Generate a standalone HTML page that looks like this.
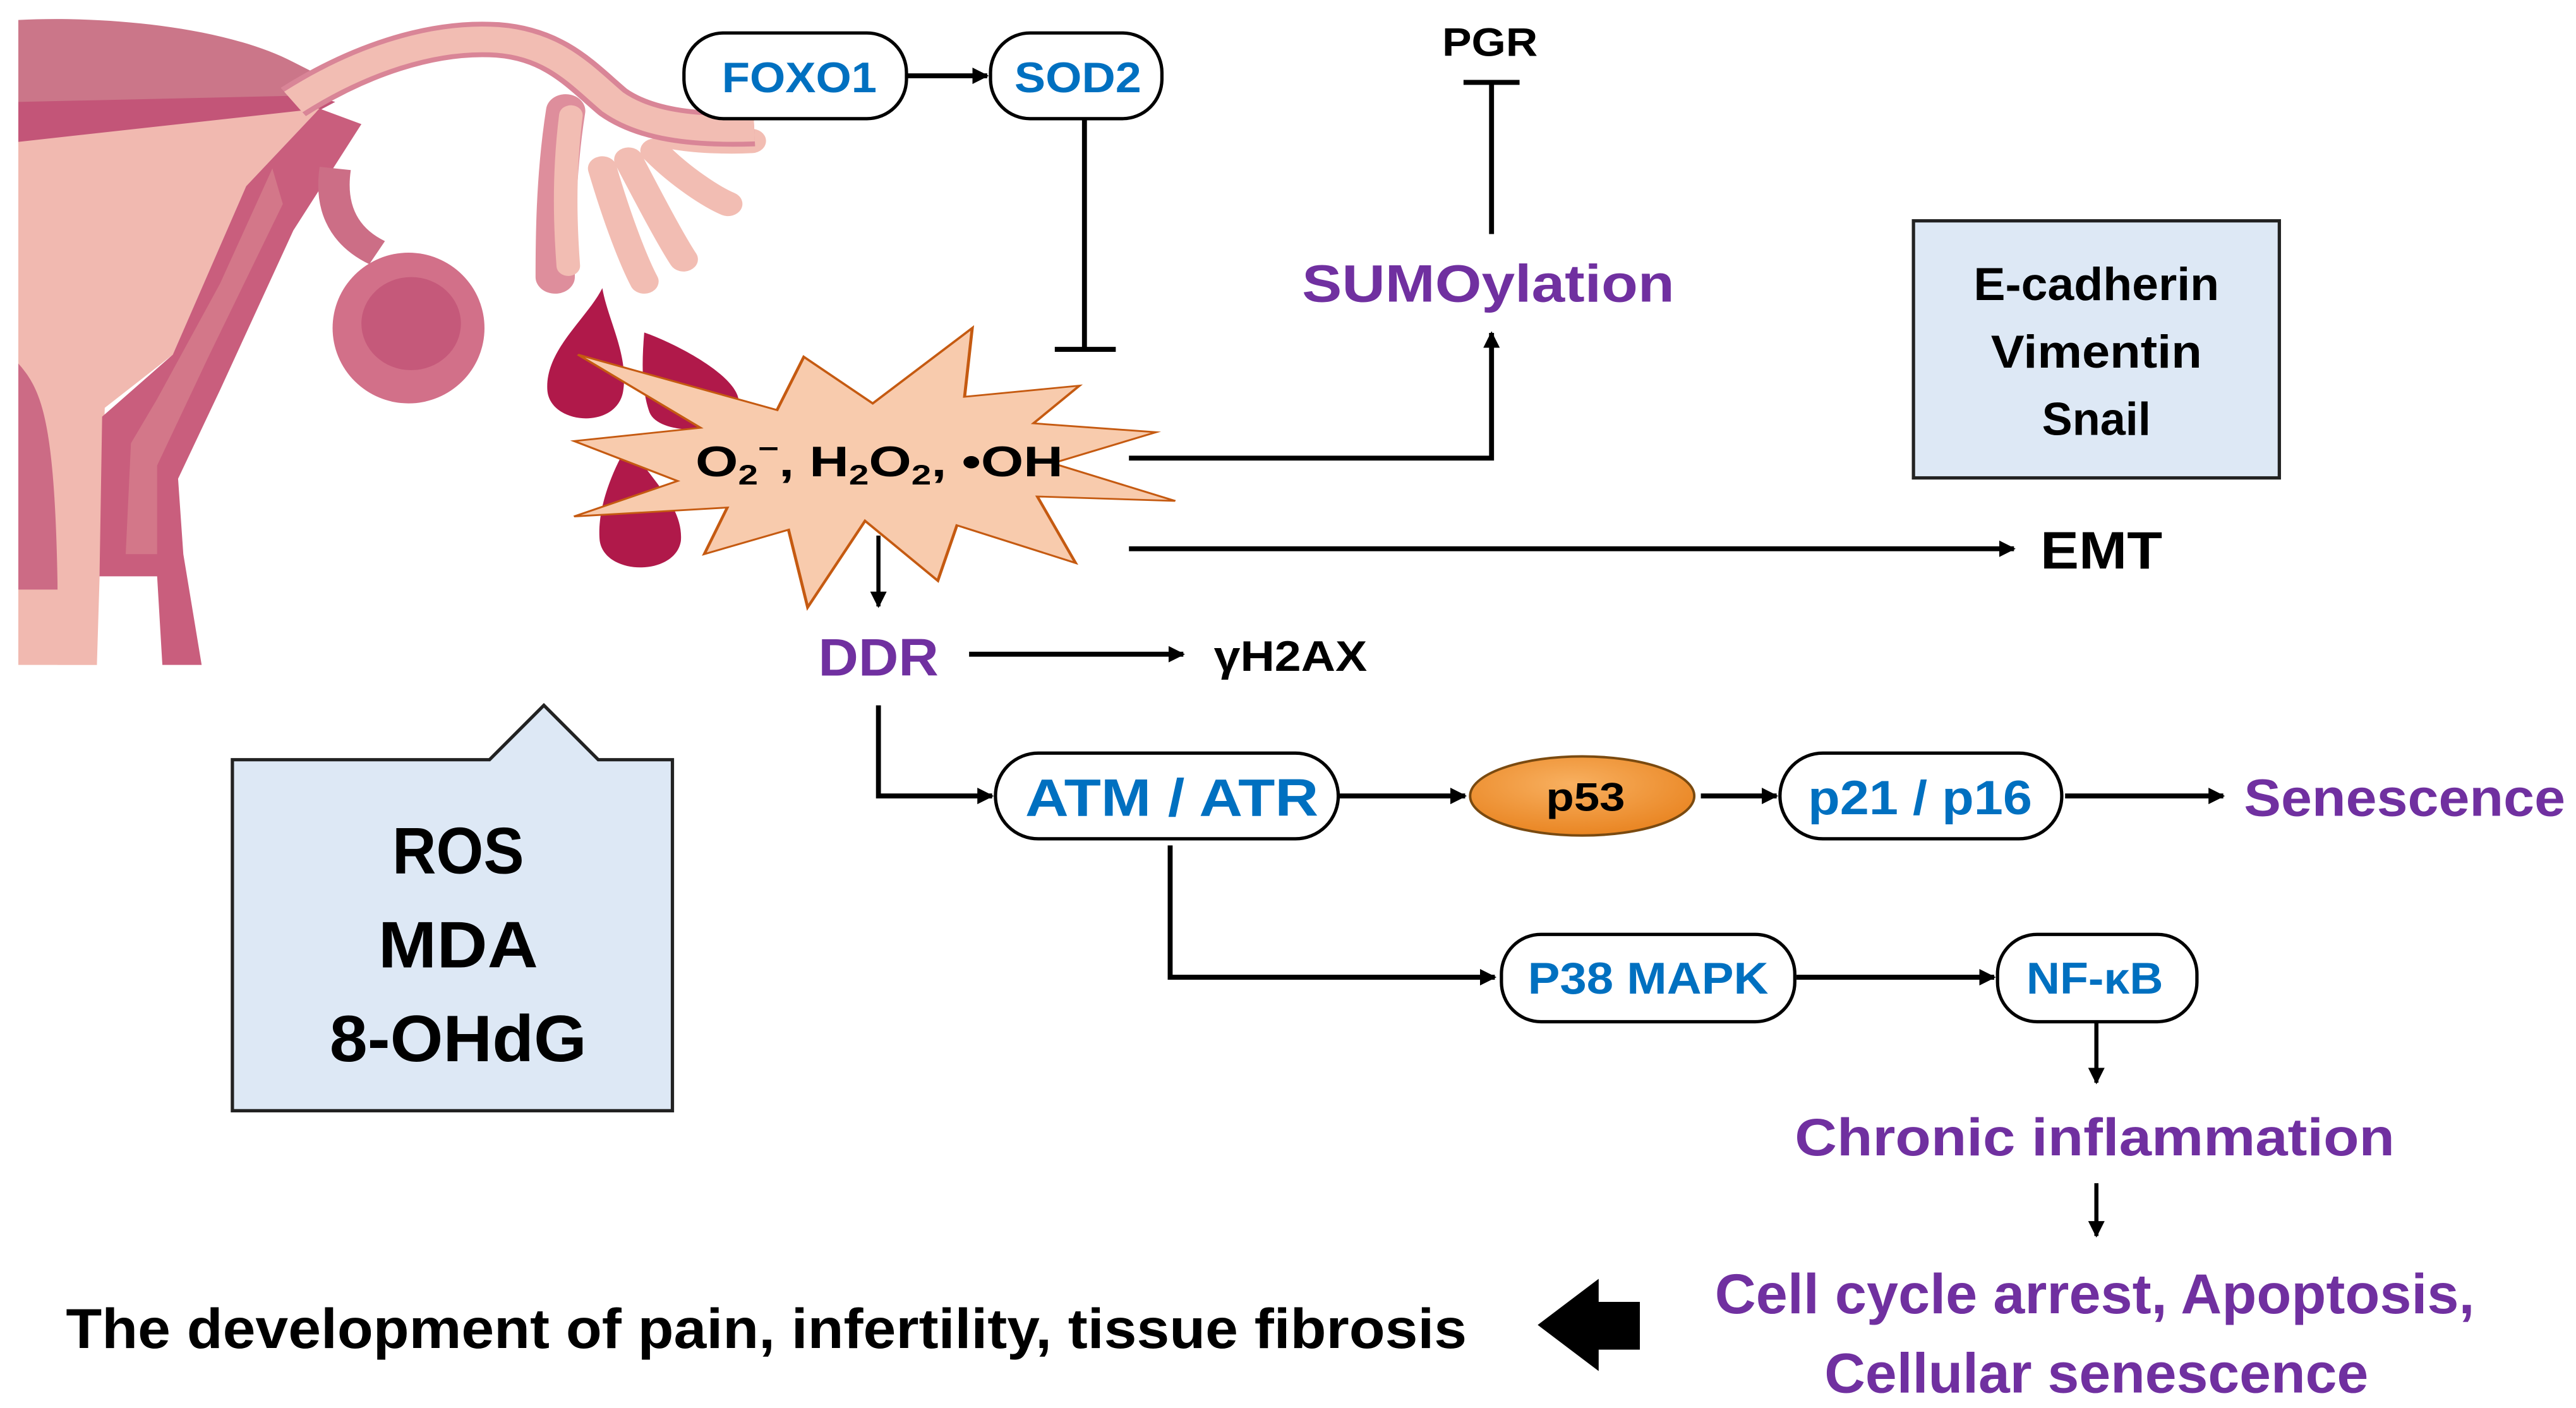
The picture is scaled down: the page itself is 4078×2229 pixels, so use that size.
<!DOCTYPE html>
<html><head><meta charset="utf-8"><style>
html,body{margin:0;padding:0;background:#fff;}
svg{display:block;}
text{font-family:"Liberation Sans",sans-serif;font-weight:bold;}
</style></head><body>
<svg width="4078" height="2229" viewBox="0 0 1563 854.4" preserveAspectRatio="none" xmlns="http://www.w3.org/2000/svg">
<defs>
<marker id="a" markerWidth="10" markerHeight="10" refX="9" refY="5" orient="auto" markerUnits="userSpaceOnUse"><path d="M0,0 L10,5 L0,10 z" fill="#000"/></marker>
<radialGradient id="og" cx="0.45" cy="0.35" r="0.7"><stop offset="0" stop-color="#F8B060"/><stop offset="1" stop-color="#E8821E"/></radialGradient>
</defs>

<!-- Uterus illustration -->
<g transform="scale(0.3178,0.269)">
  <path d="M35,45 C200,35 430,60 560,140 L660,200 L600,250 L35,320 Z" fill="#CB7689"/>
  <path d="M35,230 L600,215 L640,230 L560,280 L35,325 Z" fill="#C35578"/>
  <path d="M35,320 L610,245 L470,420 L330,800 L200,920 L185,1500 L35,1500 Z" fill="#F1B9B0"/>
  <path d="M35,820 C80,880 105,950 110,1330 L35,1330 Z" fill="#CC6B85"/>
  <path d="M610,245 L690,280 L560,520 L420,880 L340,1080 L350,1250 L385,1500 L310,1500 L300,1300 L190,1300 L195,940 L330,800 L470,420 Z" fill="#C95E7D"/>
  <path d="M520,380 L420,640 L300,900 L250,1000 L240,1250 L300,1250 L300,1050 L400,800 L540,460 Z" fill="#D7818F" opacity="0.7"/>
  <path d="M110,960 L185,960 L185,1500 L110,1500 Z" fill="#F1B9B0"/>
  <g fill="none" stroke-linecap="round">
    <path d="M1080,250 C1060,400 1060,550 1060,625" stroke="#DE8E9C" stroke-width="75"/>
    <path d="M1090,260 C1075,400 1080,520 1085,600" stroke="#F2BDB3" stroke-width="45"/>
    <g stroke="#F2BDB3" stroke-width="55">
      <path d="M1150,380 C1180,500 1210,590 1230,635"/>
      <path d="M1200,360 C1240,450 1280,540 1305,585"/>
      <path d="M1250,340 C1300,400 1360,445 1390,460"/>
      <path d="M1290,310 C1340,320 1400,320 1435,318"/>
    </g>
  </g>
  <path d="M560,230 C680,140 820,80 950,90 C1060,100 1110,170 1170,230 C1230,280 1320,295 1440,290" fill="none" stroke="#D98597" stroke-width="80"/>
  <path d="M560,230 C680,140 820,80 950,90 C1060,100 1110,170 1170,230 C1230,280 1320,295 1440,290" fill="none" stroke="#F2BDB3" stroke-width="58"/>
  <path d="M640,380 C630,460 650,530 720,570" fill="none" stroke="#CC6E86" stroke-width="60"/>
  <ellipse cx="780" cy="740" rx="145" ry="170" fill="#D27089"/>
  <ellipse cx="785" cy="730" rx="95" ry="105" fill="#C5597A"/>
  <g fill="#B0194A">
    <path d="M1150,650 C1120,720 1040,790 1045,880 C1050,960 1180,970 1190,880 C1200,800 1160,720 1150,650 Z"/>
    <path d="M1230,750 C1280,770 1400,840 1410,900 C1420,980 1260,990 1240,930 C1225,880 1225,820 1230,750 Z"/>
    <path d="M1200,1000 C1160,1080 1140,1160 1145,1220 C1155,1300 1290,1300 1300,1220 C1305,1140 1240,1080 1200,1000 Z"/>
  </g>
</g>
<g transform="scale(0.4645,0.269)">
  <path d="M755,800 L1015,925 L1050,805 L1140,910 L1270,740 L1260,895 L1410,870 L1350,955 L1510,975 L1375,1045 L1535,1130 L1355,1120 L1405,1270 L1250,1185 L1225,1310 L1130,1175 L1055,1370 L1030,1195 L920,1250 L950,1145 L750,1165 L885,1085 L750,995 L915,965 Z" fill="#F8CBAD" stroke="#C55A11" stroke-width="4" stroke-linejoin="miter"/>
</g>

<!-- star text -->
<text x="422" y="289" font-size="26" textLength="223" lengthAdjust="spacingAndGlyphs">O<tspan font-size="17" dy="5">2</tspan><tspan font-size="17" dy="-16">−</tspan><tspan dy="11">,  H</tspan><tspan font-size="17" dy="5">2</tspan><tspan dy="-5">O</tspan><tspan font-size="17" dy="5">2</tspan><tspan dy="-5">,  •OH</tspan></text>

<g stroke="#000" stroke-width="3" fill="none">
  <line x1="550" y1="46" x2="599" y2="46" marker-end="url(#a)"/>
  <line x1="658" y1="72" x2="658" y2="212"/>
  <line x1="640" y1="212" x2="677" y2="212"/>
  <line x1="905" y1="142" x2="905" y2="50"/>
  <line x1="888" y1="50" x2="922" y2="50"/>
  <polyline points="685,278 905,278 905,202" marker-end="url(#a)"/>
  <line x1="685" y1="333" x2="1222" y2="333" marker-end="url(#a)"/>
  <line x1="533" y1="325" x2="533" y2="368" marker-end="url(#a)" stroke-width="2.5"/>
  <line x1="588" y1="397" x2="718" y2="397" marker-end="url(#a)"/>
  <polyline points="533,428 533,483 602,483" marker-end="url(#a)"/>
  <line x1="812" y1="483" x2="889" y2="483" marker-end="url(#a)"/>
  <line x1="1032" y1="483" x2="1078" y2="483" marker-end="url(#a)"/>
  <line x1="1253" y1="483" x2="1349" y2="483" marker-end="url(#a)"/>
  <polyline points="710,513 710,593 907,593" marker-end="url(#a)"/>
  <line x1="1090" y1="593" x2="1210" y2="593" marker-end="url(#a)"/>
  <line x1="1272" y1="620" x2="1272" y2="657" marker-end="url(#a)" stroke-width="2.5"/>
  <line x1="1272" y1="718" x2="1272" y2="750" marker-end="url(#a)" stroke-width="2.5"/>
</g>

<!-- boxes -->
<g stroke="#000" stroke-width="2" fill="#fff">
  <rect x="415" y="20" width="135" height="52" rx="24"/>
  <rect x="601" y="20" width="104" height="52" rx="24"/>
  <rect x="604" y="457" width="208" height="52" rx="26"/>
  <rect x="1080" y="457" width="171" height="52" rx="26"/>
  <rect x="911" y="567" width="178" height="53" rx="24"/>
  <rect x="1212" y="567" width="121" height="53" rx="24"/>
</g>
<rect x="1161" y="134" width="222" height="156" fill="#DDE8F5" stroke="#222" stroke-width="2"/>
<path d="M141,461 L297,461 L330,428 L363,461 L408,461 L408,674 L141,674 Z" fill="#DDE8F5" stroke="#222" stroke-width="2"/>
<ellipse cx="960" cy="483" rx="68" ry="24" fill="url(#og)" stroke="#7a4a10" stroke-width="1.5"/>
<path d="M933,804 L970,776 L970,790 L995,790 L995,819 L970,819 L970,832 Z" fill="#000"/>

<!-- texts -->
<g fill="#0070C0" text-anchor="middle">
  <text x="485" y="56" font-size="26" textLength="94" lengthAdjust="spacingAndGlyphs">FOXO1</text>
  <text x="654" y="56" font-size="26" textLength="77" lengthAdjust="spacingAndGlyphs">SOD2</text>
  <text x="711" y="495" font-size="32" textLength="178" lengthAdjust="spacingAndGlyphs">ATM / ATR</text>
  <text x="1165" y="494" font-size="29" textLength="136" lengthAdjust="spacingAndGlyphs">p21 / p16</text>
  <text x="1000" y="603" font-size="27" textLength="146" lengthAdjust="spacingAndGlyphs">P38 MAPK</text>
  <text x="1271" y="603" font-size="27" textLength="83" lengthAdjust="spacingAndGlyphs">NF-κB</text>
</g>
<g fill="#7030A0" text-anchor="middle">
  <text x="903" y="183" font-size="32" textLength="226" lengthAdjust="spacingAndGlyphs">SUMOylation</text>
  <text x="533" y="410" font-size="32" textLength="73" lengthAdjust="spacingAndGlyphs">DDR</text>
  <text x="1459" y="495" font-size="32" textLength="195" lengthAdjust="spacingAndGlyphs">Senescence</text>
  <text x="1271" y="701" font-size="32" textLength="364" lengthAdjust="spacingAndGlyphs">Chronic inflammation</text>
  <text x="1271" y="797" font-size="34" textLength="461" lengthAdjust="spacingAndGlyphs">Cell cycle arrest, Apoptosis,</text>
  <text x="1272" y="845" font-size="34" textLength="330" lengthAdjust="spacingAndGlyphs">Cellular senescence</text>
</g>
<g fill="#000" text-anchor="middle">
  <text x="904" y="34" font-size="24" textLength="58" lengthAdjust="spacingAndGlyphs">PGR</text>
  <text x="1272" y="182" font-size="28" textLength="149" lengthAdjust="spacingAndGlyphs">E-cadherin</text>
  <text x="1272" y="223" font-size="28" textLength="128" lengthAdjust="spacingAndGlyphs">Vimentin</text>
  <text x="1272" y="264" font-size="28" textLength="66" lengthAdjust="spacingAndGlyphs">Snail</text>
  <text x="1275" y="345" font-size="32" textLength="74" lengthAdjust="spacingAndGlyphs">EMT</text>
  <text x="783" y="407" font-size="26" textLength="93" lengthAdjust="spacingAndGlyphs">γH2AX</text>
  <text x="962" y="492" font-size="24" textLength="48" lengthAdjust="spacingAndGlyphs">p53</text>
  <text x="278" y="530" font-size="40" textLength="80" lengthAdjust="spacingAndGlyphs">ROS</text>
  <text x="278" y="587" font-size="40" textLength="97" lengthAdjust="spacingAndGlyphs">MDA</text>
  <text x="278" y="644" font-size="40" textLength="156" lengthAdjust="spacingAndGlyphs">8-OHdG</text>
  <text x="465" y="818" font-size="34" textLength="850" lengthAdjust="spacingAndGlyphs">The development of pain, infertility, tissue fibrosis</text>
</g>
</svg>
</body></html>
